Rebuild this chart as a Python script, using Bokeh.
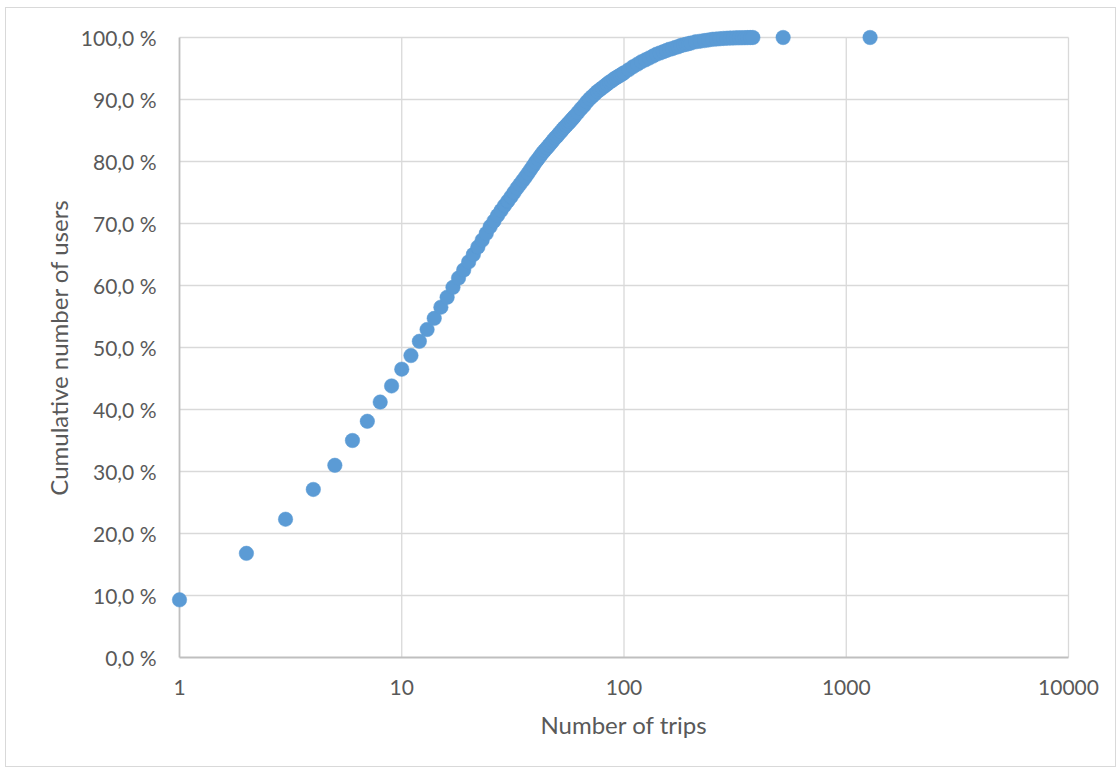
from bokeh.plotting import figure
from bokeh.models import Range1d, FixedTicker
from bokeh.embed import file_html
from bokeh.resources import INLINE

# ---- data ----
trips = [1, 2, 3, 4, 5, 6, 7, 8, 9, 10,
         11, 12, 13, 14, 15, 16, 17, 18, 19, 20,
         21, 22, 23, 24, 25, 26, 27, 28, 29, 30,
         31, 32, 33, 34, 35, 36, 37, 38, 39, 40,
         41, 42, 43, 44, 45, 46, 47, 48, 49, 50,
         51, 52, 53, 54, 55, 56, 57, 58, 59, 60,
         62, 64, 66, 68, 70, 72, 74, 76, 78, 80,
         82, 84, 86, 88, 90, 92, 94, 96, 98, 100,
         105, 110, 115, 120, 125, 130, 135, 140, 145, 150,
         155, 160, 165, 170, 175, 180, 185, 190, 195, 200,
         210, 220, 230, 240, 250, 260, 270, 280, 290, 300,
         310, 320, 330, 340, 350, 360, 370, 380,
         520, 1280]
cum_pct = [9.3, 16.8, 22.3, 27.1, 31.0, 35.0, 38.1, 41.2, 43.8, 46.5,
           48.7, 51.0, 52.9, 54.7, 56.5, 58.1, 59.7, 61.2, 62.5, 63.8,
           65.0, 66.2, 67.3, 68.4, 69.5, 70.4, 71.3, 72.1, 72.9, 73.6,
           74.3, 75.0, 75.7, 76.3, 76.9, 77.5, 78.1, 78.7, 79.3, 79.9,
           80.4, 80.9, 81.4, 81.8, 82.2, 82.6, 83.0, 83.4, 83.8, 84.1,
           84.5, 84.8, 85.2, 85.5, 85.8, 86.1, 86.4, 86.7, 87.0, 87.3,
           87.9, 88.5, 89.0, 89.6, 90.1, 90.5, 90.9, 91.3, 91.6, 91.9,
           92.2, 92.5, 92.8, 93.0, 93.3, 93.5, 93.7, 93.9, 94.1, 94.3,
           94.8, 95.3, 95.7, 96.1, 96.4, 96.7, 97.0, 97.3, 97.5, 97.7,
           97.9, 98.1, 98.2, 98.4, 98.5, 98.7, 98.8, 98.9, 99.0, 99.1,
           99.3, 99.4, 99.5, 99.6, 99.7, 99.75, 99.8, 99.85, 99.88, 99.9,
           99.92, 99.94, 99.95, 99.96, 99.97, 99.98, 99.99, 100.0,
           100.0, 100.0]

x_ticks = [1, 10, 100, 1000, 10000]
x_tick_labels = ["1", "10", "100", "1000", "10000"]
y_ticks = [0, 10, 20, 30, 40, 50, 60, 70, 80, 90, 100]
y_tick_labels = ["0,0 %", "10,0 %", "20,0 %", "30,0 %", "40,0 %", "50,0 %",
                 "60,0 %", "70,0 %", "80,0 %", "90,0 %", "100,0 %"]
x_title = "Number of trips"
y_title = "Cumulative number of users"

# ---- styling ----
TEXT = "#595959"
GRID = "#d9d9d9"
AXIS = "#bfbfbf"
DOT = "#5b9bd5"
FONT = "Lato"

X_PAD_DEC = 0.045   # padding (decades) so edge markers are not clipped
Y_PAD = 1.6129      # padding (percent)

p = figure(x_axis_type="log",
           x_range=Range1d(10 ** (-X_PAD_DEC), 10 ** (4 + X_PAD_DEC)),
           y_range=Range1d(-Y_PAD, 100 + Y_PAD),
           frame_width=909, frame_height=640,
           min_border_left=163, min_border_right=37,
           min_border_top=19, min_border_bottom=99,
           output_backend="svg", toolbar_location=None)

p.background_fill_color = "white"
p.border_fill_color = "white"
p.outline_line_color = None
p.xgrid.visible = False
p.ygrid.visible = False
p.styles = {"border": "1px solid #d9d9d9", "margin-left": "5px", "margin-top": "7px"}

n_x = len(x_ticks) - 1
n_y = len(y_ticks) - 1
# vertical grid lines
p.segment(x0=x_ticks[1:], y0=[y_ticks[0]] * n_x, x1=x_ticks[1:], y1=[y_ticks[-1]] * n_x,
          line_color=GRID, line_width=1.3)
# horizontal grid lines
p.segment(x0=[x_ticks[0]] * n_y, y0=y_ticks[1:], x1=[x_ticks[-1]] * n_y, y1=y_ticks[1:],
          line_color=GRID, line_width=1.3)
# axis lines
p.segment(x0=[x_ticks[0], x_ticks[0]], y0=[y_ticks[0], y_ticks[0]],
          x1=[x_ticks[0], x_ticks[-1]], y1=[y_ticks[-1], y_ticks[0]],
          line_color=AXIS, line_width=1.8)

p.scatter(trips, cum_pct, size=14.5, fill_color=DOT, line_color=DOT, line_width=0.5)

p.xaxis.ticker = FixedTicker(ticks=x_ticks)
p.xaxis.major_label_overrides = {t: l for t, l in zip(x_ticks, x_tick_labels)}
p.yaxis.ticker = FixedTicker(ticks=y_ticks)
p.yaxis.major_label_overrides = {t: l for t, l in zip(y_ticks, y_tick_labels)}
p.xaxis.axis_label = x_title
p.yaxis.axis_label = y_title

for ax in (p.xaxis[0], p.yaxis[0]):
    ax.axis_line_color = None
    ax.major_tick_line_color = None
    ax.minor_tick_line_color = None
    ax.major_label_text_font = FONT
    ax.major_label_text_font_size = "21px"
    ax.major_label_text_color = TEXT
    ax.axis_label_text_font = FONT
    ax.axis_label_text_font_size = "24px"
    ax.axis_label_text_font_style = "normal"
    ax.axis_label_text_color = TEXT

p.xaxis.major_label_standoff = 6
p.xaxis.axis_label_standoff = 12
p.yaxis.major_label_standoff = 7
p.yaxis.axis_label_standoff = 5

open("out.html", "w").write(file_html(p, INLINE))
